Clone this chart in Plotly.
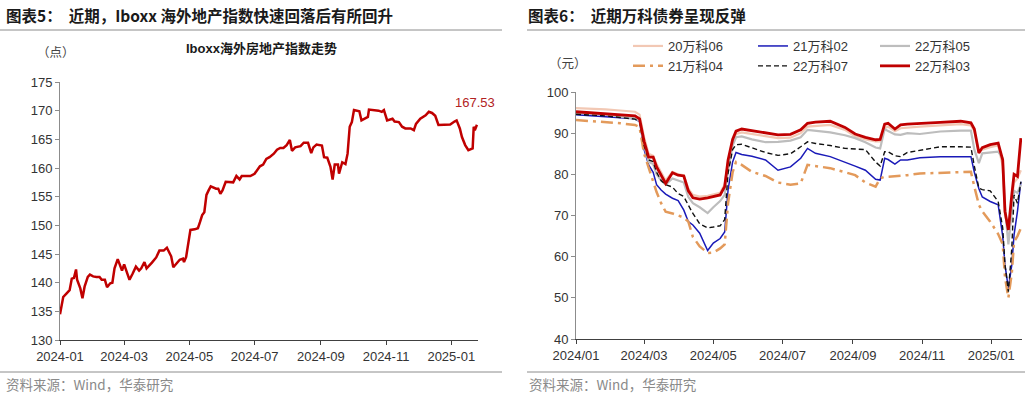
import plotly.graph_objects as go

# ---------------- Left chart data: Iboxx overseas real-estate index ----------------
iboxx_dates = [
    "2024-01-01", "2024-01-04", "2024-01-07", "2024-01-10", "2024-01-12", "2024-01-14",
    "2024-01-16", "2024-01-17", "2024-01-20", "2024-01-22", "2024-01-24", "2024-01-27",
    "2024-01-29", "2024-02-01", "2024-02-04", "2024-02-07", "2024-02-09", "2024-02-12",
    "2024-02-14", "2024-02-17", "2024-02-19", "2024-02-21", "2024-02-24", "2024-02-26",
    "2024-02-28", "2024-03-01", "2024-03-03", "2024-03-06", "2024-03-09", "2024-03-12",
    "2024-03-15", "2024-03-17", "2024-03-20", "2024-03-22", "2024-03-27", "2024-03-31",
    "2024-04-03", "2024-04-07", "2024-04-10", "2024-04-12", "2024-04-14", "2024-04-16",
    "2024-04-19", "2024-04-22", "2024-04-25", "2024-04-26", "2024-04-28", "2024-04-30",
    "2024-05-02", "2024-05-06", "2024-05-09", "2024-05-11", "2024-05-13", "2024-05-15",
    "2024-05-17", "2024-05-19", "2024-05-21", "2024-05-26", "2024-05-28", "2024-05-30",
    "2024-06-01", "2024-06-04", "2024-06-11", "2024-06-14", "2024-06-17", "2024-06-19",
    "2024-06-27", "2024-07-01", "2024-07-03", "2024-07-06", "2024-07-09", "2024-07-12",
    "2024-07-15", "2024-07-19", "2024-07-22", "2024-07-25", "2024-07-28", "2024-07-31",
    "2024-08-03", "2024-08-05", "2024-08-08", "2024-08-13", "2024-08-16", "2024-08-20",
    "2024-08-23", "2024-08-25", "2024-08-28", "2024-09-02", "2024-09-04", "2024-09-07",
    "2024-09-10", "2024-09-12", "2024-09-14", "2024-09-17", "2024-09-18", "2024-09-21",
    "2024-09-24", "2024-09-26", "2024-09-28", "2024-09-30", "2024-10-02", "2024-10-07",
    "2024-10-09", "2024-10-12", "2024-10-15", "2024-10-16", "2024-10-25", "2024-10-28",
    "2024-10-30", "2024-11-02", "2024-11-07", "2024-11-09", "2024-11-13", "2024-11-16",
    "2024-11-19", "2024-11-24", "2024-11-27", "2024-11-29", "2024-12-03", "2024-12-08",
    "2024-12-11", "2024-12-14", "2024-12-17", "2024-12-20", "2024-12-25", "2024-12-31",
    "2025-01-04", "2025-01-06", "2025-01-09", "2025-01-11", "2025-01-14", "2025-01-17",
    "2025-01-21", "2025-01-22", "2025-01-23", "2025-01-25",
]
iboxx_values = [
    134.5, 137.5, 138.1, 138.7, 140.7, 140.8,
    142.3, 140.5, 139.0, 137.3, 139.3, 141.0,
    141.4, 141.1, 141.0, 141.0, 140.5, 140.5,
    139.2, 139.9, 140.0, 142.5, 144.1, 143.2,
    142.1, 143.2, 142.2, 140.5, 141.6, 142.8,
    142.1, 142.5, 143.6, 142.5, 143.5, 144.4,
    145.6, 145.6, 146.1, 145.4, 144.6, 142.7,
    143.4, 144.0, 144.2, 143.6, 144.5, 146.8,
    149.2, 149.3, 149.5, 150.6, 151.8, 152.3,
    155.3, 156.1, 156.8, 156.4, 156.4, 155.5,
    156.1, 157.6, 157.5, 158.6, 158.0, 158.6,
    158.6, 159.0, 159.6, 160.3, 160.6, 161.6,
    161.9, 162.5, 163.2, 163.5, 163.5, 164.0,
    164.9, 163.0, 163.6, 163.8, 164.4, 164.4,
    162.6, 163.6, 164.1, 163.9, 161.9, 161.8,
    160.2, 158.0, 160.6, 160.6, 159.0, 161.0,
    160.7, 162.5, 167.2, 168.0, 170.1, 169.9,
    168.3, 168.6, 168.9, 170.2, 170.0, 169.8,
    170.1, 168.3, 168.6, 168.1, 168.0, 167.2,
    166.9, 166.9, 166.6, 167.7, 168.6, 169.2,
    169.8, 169.6, 169.1, 167.5, 167.5, 167.6,
    168.1, 168.3, 166.9, 165.4, 164.0, 163.1,
    163.4, 167.2, 166.6, 167.53,
]

# ---------------- Right chart data: Vanke bond prices (yuan) ----------------
bond_dates = [
    "2024-01-01", "2024-01-13", "2024-01-27", "2024-02-09", "2024-02-22", "2024-02-26",
    "2024-03-01", "2024-03-05", "2024-03-09", "2024-03-12", "2024-03-16", "2024-03-20",
    "2024-03-26", "2024-03-31", "2024-04-05", "2024-04-09", "2024-04-13", "2024-04-19",
    "2024-04-26", "2024-05-01", "2024-05-07", "2024-05-11", "2024-05-14", "2024-05-18",
    "2024-05-21", "2024-05-26", "2024-06-04", "2024-06-16", "2024-06-27", "2024-07-08",
    "2024-07-17", "2024-07-23", "2024-07-30", "2024-08-12", "2024-08-25", "2024-09-03",
    "2024-09-12", "2024-09-21", "2024-09-25", "2024-09-29", "2024-10-02", "2024-10-08",
    "2024-10-13", "2024-10-19", "2024-10-30", "2024-11-17", "2024-12-05", "2024-12-14",
    "2024-12-17", "2024-12-21", "2024-12-24", "2024-12-31", "2025-01-07", "2025-01-11",
    "2025-01-13", "2025-01-16", "2025-01-19", "2025-01-21", "2025-01-24", "2025-01-27",
]
vanke_20_06 = [
    96.1, 96.0, 95.8, 95.5, 95.2, 94.5, 89.0, 85.0, 84.5, 82.5, 80.5, 78.5,
    80.6, 80.0, 79.8, 76.5, 75.0, 74.6, 74.8, 75.2, 75.5, 77.5, 83.0, 88.0,
    89.8, 90.2, 89.8, 89.2, 88.8, 88.9, 90.0, 91.6, 91.8, 92.0, 90.8, 89.2,
    88.5, 88.0, 88.0, 91.2, 91.6, 90.5, 91.2, 91.4, 91.6, 91.9, 92.2, 91.9,
    90.5, 85.5, 86.0, 86.6, 87.0, 82.0, 70.0, 67.0, 73.0, 78.0, 79.0, 81.0,
]
vanke_21_02 = [
    94.5, 94.3, 94.0, 93.8, 93.5, 92.8, 86.0, 82.3, 80.5, 77.5, 76.2, 75.2,
    74.2, 73.6, 71.3, 68.5, 67.7, 65.7, 61.5, 63.3, 64.4, 66.0, 76.2, 83.0,
    85.3, 84.8, 84.4, 83.5, 81.0, 81.8, 83.9, 86.3, 85.1, 84.3, 83.0, 82.0,
    81.0, 78.8, 78.6, 83.9, 83.6, 82.5, 83.5, 83.5, 84.0, 84.3, 84.3, 84.3,
    80.5, 76.5, 74.5, 73.4, 72.6, 65.0, 58.0, 52.3, 58.0, 65.3, 71.0, 78.2,
]
vanke_22_05 = [
    95.0, 94.8, 94.5, 94.0, 93.6, 93.0, 87.0, 83.0, 82.5, 80.0, 78.5, 77.5,
    79.0, 78.5, 78.0, 74.5, 73.0, 72.0, 70.6, 72.0, 73.5, 75.0, 81.0, 87.0,
    89.0, 89.2, 88.5, 87.8, 87.9, 88.2, 89.0, 90.8, 90.6, 90.2, 89.5, 88.8,
    87.8, 86.5, 86.3, 91.0, 90.5, 89.7, 89.6, 90.0, 89.8, 90.4, 90.6, 90.6,
    86.0, 82.7, 85.1, 85.3, 85.5, 83.9, 72.0, 63.0, 70.0, 76.0, 75.5, 77.5,
]
vanke_21_04 = [
    93.2, 93.0, 92.7, 92.4, 92.0, 91.5, 85.0, 81.5, 78.0, 75.7, 73.0, 70.9,
    70.5, 70.0, 69.5, 68.5, 64.8, 62.5, 60.9, 61.0, 62.0, 63.0, 73.0, 80.5,
    83.0, 82.3, 80.6, 79.6, 78.0, 77.5, 77.8, 82.3, 82.0, 81.5, 80.5, 79.8,
    78.0, 77.0, 79.0, 79.4, 79.4, 79.5, 79.6, 79.8, 80.2, 80.4, 80.6, 80.6,
    77.0, 72.6, 71.0, 68.5, 65.5, 63.0, 55.0, 50.0, 56.0, 63.6, 65.0, 66.9,
]
vanke_22_07 = [
    94.6, 94.4, 94.2, 93.8, 93.4, 92.8, 87.0, 83.5, 83.1, 80.5, 78.5, 77.5,
    76.9, 75.3, 74.6, 72.5, 70.5, 68.0, 67.0, 67.2, 67.5, 69.0, 80.3, 86.0,
    87.2, 87.3, 86.4, 85.3, 84.6, 85.0, 86.7, 87.9, 87.5, 87.0, 86.3, 86.2,
    86.0, 83.0, 82.0, 85.5, 85.5, 84.5, 84.3, 85.3, 85.8, 86.7, 86.7, 86.6,
    82.0, 76.6, 76.3, 76.0, 73.4, 67.0, 58.0, 51.5, 62.0, 75.0, 73.0, 78.2,
]
vanke_22_03 = [
    95.2, 95.0, 94.8, 94.5, 94.2, 93.5, 88.0, 84.2, 84.2, 81.8, 79.6, 77.8,
    80.4, 79.8, 79.6, 76.0, 74.3, 74.0, 74.3, 74.7, 75.0, 77.0, 83.5, 88.5,
    90.5, 91.0, 90.6, 90.0, 89.6, 89.7, 90.8, 92.4, 92.7, 92.9, 91.4, 89.8,
    89.0, 88.4, 88.5, 92.2, 92.4, 91.0, 92.0, 92.2, 92.3, 92.6, 92.9, 92.5,
    91.0, 85.2, 86.5, 87.2, 87.6, 83.5, 71.0, 66.5, 75.0, 80.0, 79.5, 88.8,
]

bond_names = ["20万科06", "21万科02", "22万科05", "21万科04", "22万科07", "22万科03"]
bond_series = [vanke_20_06, vanke_21_02, vanke_22_05, vanke_21_04, vanke_22_07, vanke_22_03]
bond_styles = [
    dict(color="#F2C8B4", width=2.2),
    dict(color="#1A1AB8", width=1.5),
    dict(color="#BDBDBD", width=2.2),
    dict(color="#E39A5B", width=2.5, dash="12px,5px,3px,5px"),
    dict(color="#111111", width=1.4, dash="5px,3px"),
    dict(color="#C00000", width=2.8),
]
# legend column for each series (3 columns x 2 rows)
bond_legend = ["legend", "legend2", "legend3", "legend", "legend2", "legend3"]

W, H = 1033, 397
def px(x):
    return x / W
def py(y):
    return 1 - y / H

CJK = "Liberation Sans, Noto Sans CJK SC, sans-serif"
TICKFONT = dict(family="Liberation Sans, Arial, sans-serif", size=13, color="#333333")

fig = go.Figure()

fig.add_trace(go.Scatter(
    x=iboxx_dates, y=iboxx_values, mode="lines",
    line=dict(color="#C00000", width=2.5),
    showlegend=False, xaxis="x", yaxis="y", hoverinfo="x+y",
))

for name, vals, st, lg in zip(bond_names, bond_series, bond_styles, bond_legend):
    fig.add_trace(go.Scatter(
        x=bond_dates, y=vals, mode="lines", name=name,
        line=st, xaxis="x2", yaxis="y2", legend=lg,
    ))

axis_common = dict(
    showgrid=False, zeroline=False, showline=True, ticks="outside",
    ticklen=4, tickwidth=1, tickfont=TICKFONT,
)

def legend_at(xpix):
    return dict(
        orientation="v", x=px(xpix), y=py(31), xanchor="left", yanchor="top",
        font=dict(family=CJK, size=13, color="#333333"),
        bgcolor="rgba(0,0,0,0)", itemwidth=30, traceorder="normal",
    )

fig.update_layout(
    width=W, height=H, autosize=False,
    margin=dict(l=0, r=0, t=0, b=0, autoexpand=False),
    paper_bgcolor="white", plot_bgcolor="white",
    font=dict(family=CJK, size=13, color="#333333"),
    xaxis=dict(
        domain=[px(60), px(478)], type="date",
        range=["2024-01-01", "2025-01-26"],
        tick0="2024-01-01", dtick="M2", tickformat="%Y-%m",
        linecolor="#404040", tickcolor="#404040", anchor="y",
        **axis_common,
    ),
    yaxis=dict(
        domain=[py(340), py(82)], range=[130, 175], dtick=5,
        linecolor="#8c8c8c", tickcolor="#8c8c8c", anchor="x",
        **axis_common,
    ),
    xaxis2=dict(
        domain=[px(576), px(1022)], type="date",
        range=["2024-01-01", "2025-01-28"],
        tick0="2024-01-01", dtick="M2", tickformat="%Y/%m",
        linecolor="#404040", tickcolor="#404040", anchor="y2",
        **axis_common,
    ),
    yaxis2=dict(
        domain=[py(339), py(92)], range=[40, 100], dtick=10,
        linecolor="#8c8c8c", tickcolor="#8c8c8c", anchor="x2",
        **axis_common,
    ),
    legend=legend_at(628),
    legend2=legend_at(753),
    legend3=legend_at(875),
)

annotations = [
    dict(text="<b>图表5：  近期，Iboxx 海外地产指数快速回落后有所回升</b>",
         x=px(4), y=py(15), xanchor="left", yanchor="middle",
         font=dict(family="Noto Sans CJK SC", size=15.5, color="#1a1a1a")),
    dict(text="<b>图表6：  近期万科债券呈现反弹</b>",
         x=px(526), y=py(15), xanchor="left", yanchor="middle",
         font=dict(family="Noto Sans CJK SC", size=15.5, color="#1a1a1a")),
    dict(text="<b>Iboxx海外房地产指数走势</b>",
         x=px(261), y=py(49), xanchor="center", yanchor="middle",
         font=dict(family=CJK, size=13, color="#1a1a1a")),
    dict(text="（点）", x=px(35), y=py(51), xanchor="left", yanchor="middle",
         font=dict(family="Noto Sans CJK SC", size=12.5, color="#444444")),
    dict(text="（元）", x=px(547), y=py(63), xanchor="left", yanchor="middle",
         font=dict(family="Noto Sans CJK SC", size=12.5, color="#444444")),
    dict(text="资料来源：Wind，华泰研究", x=px(4), y=py(384), xanchor="left", yanchor="middle",
         font=dict(family="Noto Sans CJK SC", size=13.5, color="#8a8a8a")),
    dict(text="资料来源：Wind，华泰研究", x=px(527), y=py(384), xanchor="left", yanchor="middle",
         font=dict(family="Noto Sans CJK SC", size=13.5, color="#8a8a8a")),
]
for a in annotations:
    a.update(xref="paper", yref="paper", showarrow=False)

annotations.append(dict(
    text=f"{iboxx_values[-1]:.2f}", x=iboxx_dates[-1], y=iboxx_values[-1],
    xref="x", yref="y", showarrow=False, yshift=22, xshift=-2,
    font=dict(family="Liberation Sans, Arial, sans-serif", size=13, color="#B22222"),
))
fig.update_layout(annotations=annotations)

line_style = dict(color="#8c8c8c", width=1)
shapes = [
    dict(type="line", xref="paper", yref="paper", x0=px(0), x1=px(502), y0=py(30), y1=py(30), line=line_style),
    dict(type="line", xref="paper", yref="paper", x0=px(527), x1=px(1025), y0=py(30), y1=py(30), line=line_style),
    dict(type="line", xref="paper", yref="paper", x0=px(0), x1=px(502), y0=py(372), y1=py(372), line=line_style),
    dict(type="line", xref="paper", yref="paper", x0=px(527), x1=px(1025), y0=py(372), y1=py(372), line=line_style),
]
fig.update_layout(shapes=shapes)

fig.write_html(
    "out.html",
    config={"displayModeBar": False},
    post_script="document.body.style.margin='0';document.body.style.overflow='hidden';",
)
